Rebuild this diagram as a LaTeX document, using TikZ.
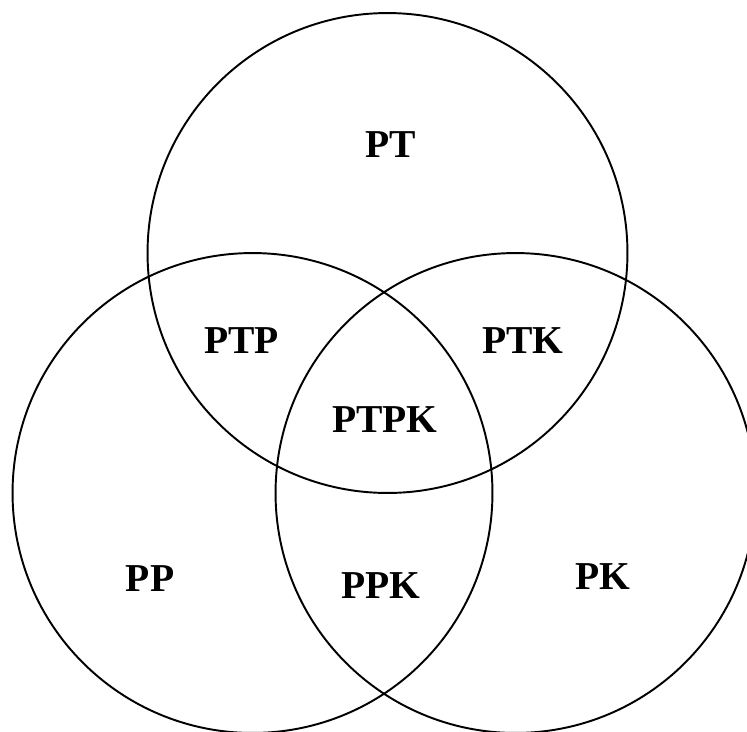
\documentclass[tikz,border=0pt]{standalone}
\usepackage{fontspec}
\setmainfont{Liberation Serif}
\usetikzlibrary{positioning}

\begin{document}
\begin{tikzpicture}[
  x=0.02cm, y=-0.02cm,
  every node/.style={align=center},
  setring/.style={circle,draw=black,line width=1.1pt,inner sep=0pt,
                  minimum size=9.6cm},
  setlabel/.style={font=\fontsize{22.5}{27}\selectfont\bfseries,inner sep=0pt}
]
\clip (0,0) rectangle (747,731);

% Sets
\node[setring] (ringT) at (387.5,253) {};
\node[setring] (ringP) at (252.5,493) {};
\node[setring] (ringK) at (515.5,493) {};

% Regions
\node[setlabel] (pt)   at (391,145) {PT};
\node[setlabel] (ptp)  at (241.5,340.5) {PTP};
\node[setlabel] (ptk)  at (523,340.5) {PTK};
\node[setlabel] (ptpk) at (385,420) {PTPK};
\node[setlabel] (pp)   at (150,579) {PP};
\node[setlabel] (ppk)  at (381,586) {PPK};
\node[setlabel] (pk)   at (603,577) {PK};
\end{tikzpicture}
\end{document}
